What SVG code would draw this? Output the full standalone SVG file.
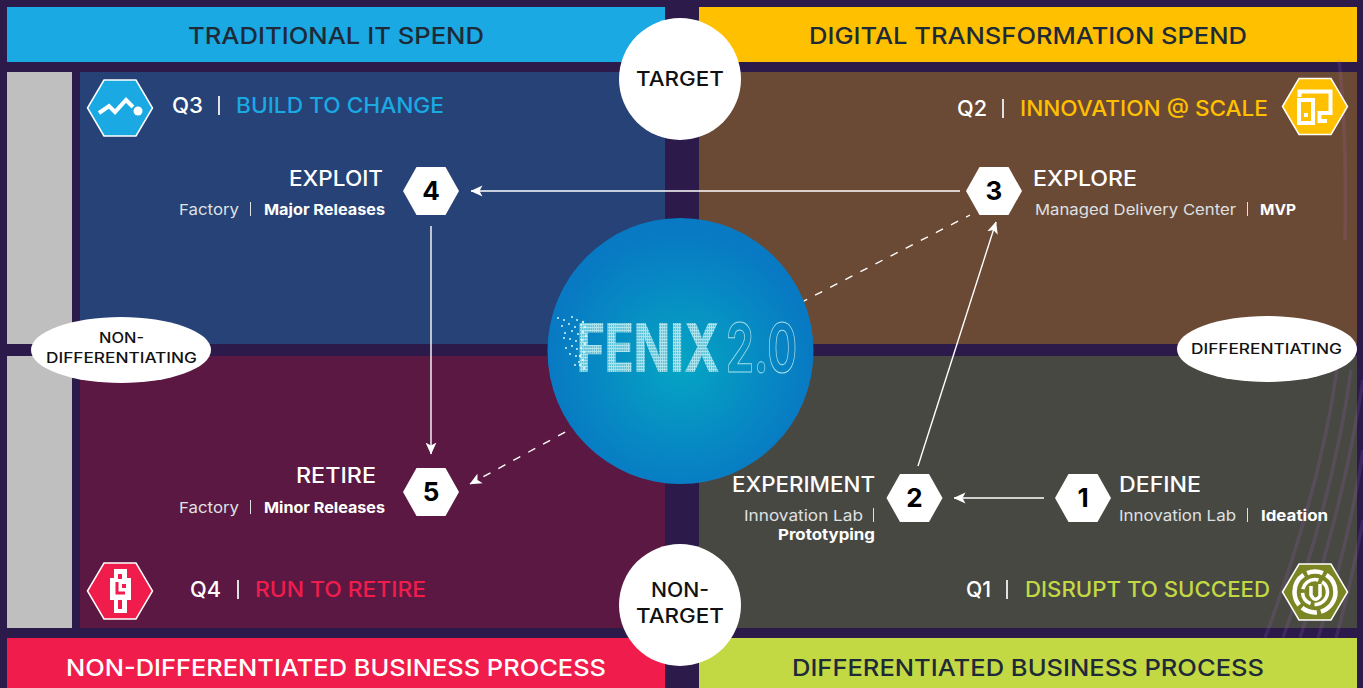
<svg xmlns="http://www.w3.org/2000/svg" width="1363" height="688" viewBox="0 0 1363 688">
<defs>
<style>
text{font-family:Inter,"Liberation Sans",sans-serif;}
.bar{font-size:23px;font-weight:500;fill:#1f2a38;}
.w{fill:#fff;}
.q{font-size:21px;font-weight:500;}
.h{font-size:21px;font-weight:500;fill:#fff;}
.s{font-size:15px;fill:#dfe0e2;}
.b{font-size:15px;font-weight:700;fill:#fff;}
.c{font-size:20px;font-weight:500;fill:#111;}
.e{font-size:14px;font-weight:500;fill:#111;}
.n{font-size:26px;font-weight:700;fill:#000;text-anchor:middle;}
.cn{stroke:#fff;stroke-width:1.400;fill:none;}
.d{stroke-dasharray:8 9;}
.icon{stroke:#fff;stroke-width:1.5;}
.ic{fill:none;stroke:#fff;stroke-width:4;}
</style>
<marker id="arr" viewBox="0 0 12 12" refX="11.500" refY="6" markerWidth="12" markerHeight="12" markerUnits="userSpaceOnUse" orient="auto">
<path d="M12 6L0 0.500L3 6L0 11.500Z" fill="#fff"/>
</marker>
<radialGradient id="globe" cx="50%" cy="55%" r="50%">
<stop offset="0" stop-color="#05a5c3"/>
<stop offset="1" stop-color="#0879c3"/>
</radialGradient>
<pattern id="grid" width="3" height="3" patternUnits="userSpaceOnUse">
<rect width="3" height="3" fill="#62c2d8"/>
<path d="M0 .5H3M.5 0V3" stroke="#aee4ee" stroke-width="1"/>
</pattern>
<polygon id="hex" points="-28,0 -14.500,-24 14.500,-24 28,0 14.500,24 -14.500,24"/>
<polygon id="bighex" points="-32.500,0 -16,-28 16,-28 32.500,0 16,28 -16,28"/>
</defs>

<rect width="1363" height="688" fill="#2b1a4a"/>

<g id="panels">
<rect x="7" y="7" width="658" height="55" fill="#1aa9e3"/>
<rect x="699" y="7" width="658" height="55" fill="#ffc000"/>
<rect x="7" y="72" width="65" height="272" fill="#bfbfbf"/>
<rect x="7" y="356" width="65" height="272" fill="#bfbfbf"/>
<rect x="80" y="72" width="585" height="272" fill="#264276"/>
<rect x="699" y="72" width="658" height="272" fill="#6b4a35"/>
<rect x="80" y="356" width="585" height="272" fill="#5b1842"/>
<rect x="699" y="356" width="658" height="272" fill="#484843"/>
<g fill="none" stroke="#a868c8" stroke-width="3.500" stroke-opacity=".17">
<path d="M1339 60Q1347 130 1345 240"/>
<path d="M1337 370Q1320 490 1265 638"/>
<path d="M1351 370Q1335 490 1283 638"/>
<path d="M1363 380Q1345 500 1300 638"/>
<path d="M1363 450Q1350 540 1318 638"/>
<path d="M1363 520Q1352 580 1336 638"/>
</g>
<rect x="7" y="638" width="658" height="50" fill="#ef1c4c"/>
<rect x="699" y="638" width="658" height="50" fill="#c3d943"/>
<text class="bar" x="188" y="44" textLength="296" lengthAdjust="spacingAndGlyphs">TRADITIONAL IT SPEND</text>
<text class="bar" x="809" y="44" textLength="438" lengthAdjust="spacingAndGlyphs">DIGITAL TRANSFORMATION SPEND</text>
<text class="bar" style="fill:#fff" x="66" y="676" textLength="540" lengthAdjust="spacingAndGlyphs">NON-DIFFERENTIATED BUSINESS PROCESS</text>
<text class="bar" x="792" y="676" textLength="472" lengthAdjust="spacingAndGlyphs">DIFFERENTIATED BUSINESS PROCESS</text>
</g>

<g id="connectors">
<line class="cn" x1="960" y1="191" x2="471" y2="191" marker-end="url(#arr)"/>
<line class="cn" x1="431" y1="226" x2="431" y2="454" marker-end="url(#arr)"/>
<line class="cn" x1="1044" y1="498" x2="954" y2="498" marker-end="url(#arr)"/>
<line class="cn" x1="918" y1="466" x2="996" y2="222" marker-end="url(#arr)"/>
<line class="cn d" x1="800" y1="303" x2="970" y2="215"/>
<line class="cn d" x1="580" y1="424" x2="470" y2="484" marker-end="url(#arr)"/>
</g>

<g id="q3-header">
<use href="#bighex" transform="translate(120 108)" fill="#1aa9e3" class="icon"/>
<path d="M99 113L109 106L115 112L126 100L133 107" fill="none" stroke="#fff" stroke-width="4"/>
<circle cx="138" cy="111" r="4.500" fill="#fff"/>
<text class="q w" x="172" y="113" textLength="31" lengthAdjust="spacingAndGlyphs">Q3</text>
<rect x="218" y="96" width="2" height="19" fill="#dfe0e2"/>
<text class="q" fill="#1aa9e3" x="236" y="113" textLength="208" lengthAdjust="spacingAndGlyphs">BUILD TO CHANGE</text>
</g>

<g id="q2-header">
<use href="#bighex" transform="translate(1315 106.500)" fill="#ffc000" class="icon"/>
<path d="M1299.500 97V91.500H1330.500V113H1319.500V121H1327" class="ic"/>
<rect x="1299" y="100" width="14" height="23" class="ic"/>
<rect x="1304" y="113" width="4" height="4" fill="#fff"/>
<text class="q w" x="957" y="116" textLength="30" lengthAdjust="spacingAndGlyphs">Q2</text>
<rect x="1002" y="99" width="2" height="19" fill="#dfe0e2"/>
<text class="q" fill="#ffc000" x="1020" y="116" textLength="248" lengthAdjust="spacingAndGlyphs">INNOVATION @ SCALE</text>
</g>

<g id="q4-header">
<use href="#bighex" transform="translate(120 591)" fill="#ef1c4c" class="icon"/>
<path d="M114 569H127V578H131V600H127V613H114V600H110V578H114Z" fill="#fff"/>
<rect x="118" y="574" width="4" height="5" fill="#ef1c4c"/>
<path d="M117 582V593H125" fill="none" stroke="#ef1c4c" stroke-width="3"/>
<rect x="122" y="584" width="4" height="4" fill="#ef1c4c"/>
<rect x="118" y="600" width="4" height="9" fill="#ef1c4c"/>
<text class="q w" x="190" y="597" textLength="31" lengthAdjust="spacingAndGlyphs">Q4</text>
<rect x="237" y="580" width="2" height="19" fill="#dfe0e2"/>
<text class="q" fill="#ef1c4c" x="255" y="597" textLength="171" lengthAdjust="spacingAndGlyphs">RUN TO RETIRE</text>
</g>

<g id="q1-header">
<use href="#bighex" transform="translate(1315 592)" fill="#7c8524" class="icon"/>
<g fill="none" stroke="#fff">
<circle cx="1315" cy="592" r="20.500" stroke-width="4.500" stroke-dasharray="26 4 16 4 34 4 16 4"/>
<circle cx="1315" cy="592" r="12.500" stroke-width="3.500" stroke-dasharray="20 4 14 4"/>
<path d="M1311 586V595Q1315 603 1320 596V584" stroke-width="3.500"/>
</g>
<text class="q w" x="966" y="597" textLength="25" lengthAdjust="spacingAndGlyphs">Q1</text>
<rect x="1006" y="580" width="2" height="19" fill="#dfe0e2"/>
<text class="q" fill="#c3d943" x="1025" y="597" textLength="245" lengthAdjust="spacingAndGlyphs">DISRUPT TO SUCCEED</text>
</g>

<g id="step-4">
<use href="#hex" transform="translate(431 191)" fill="#fff"/>
<text class="n" x="431" y="200">4</text>
<text class="h" x="289" y="186" textLength="94" lengthAdjust="spacingAndGlyphs">EXPLOIT</text>
<text class="s" x="179" y="215" textLength="60" lengthAdjust="spacingAndGlyphs">Factory</text>
<rect x="250" y="202" width="1" height="14" fill="#dfe0e2"/>
<text class="b" x="264" y="215" textLength="121" lengthAdjust="spacingAndGlyphs">Major Releases</text>
</g>

<g id="step-3">
<use href="#hex" transform="translate(994 191)" fill="#fff"/>
<text class="n" x="994" y="200">3</text>
<text class="h" x="1033" y="186" textLength="104" lengthAdjust="spacingAndGlyphs">EXPLORE</text>
<text class="s" x="1035" y="215" textLength="201" lengthAdjust="spacingAndGlyphs">Managed Delivery Center</text>
<rect x="1247" y="202" width="1" height="14" fill="#dfe0e2"/>
<text class="b" x="1260" y="215" textLength="36" lengthAdjust="spacingAndGlyphs">MVP</text>
</g>

<g id="step-5">
<use href="#hex" transform="translate(431 492)" fill="#fff"/>
<text class="n" x="431" y="501">5</text>
<text class="h" x="296" y="483" textLength="80" lengthAdjust="spacingAndGlyphs">RETIRE</text>
<text class="s" x="179" y="513" textLength="60" lengthAdjust="spacingAndGlyphs">Factory</text>
<rect x="250" y="500" width="1" height="14" fill="#dfe0e2"/>
<text class="b" x="264" y="513" textLength="121" lengthAdjust="spacingAndGlyphs">Minor Releases</text>
</g>

<g id="step-2">
<use href="#hex" transform="translate(914.500 498)" fill="#fff"/>
<text class="n" x="914.500" y="507">2</text>
<text class="h" x="732" y="492" textLength="143" lengthAdjust="spacingAndGlyphs">EXPERIMENT</text>
<text class="s" x="744" y="521" textLength="119" lengthAdjust="spacingAndGlyphs">Innovation Lab</text>
<rect x="873" y="508" width="1" height="14" fill="#dfe0e2"/>
<text class="b" x="778" y="540" textLength="97" lengthAdjust="spacingAndGlyphs">Prototyping</text>
</g>

<g id="step-1">
<use href="#hex" transform="translate(1083 498)" fill="#fff"/>
<text class="n" x="1083" y="507">1</text>
<text class="h" x="1119" y="492" textLength="82" lengthAdjust="spacingAndGlyphs">DEFINE</text>
<text class="s" x="1119" y="521" textLength="117" lengthAdjust="spacingAndGlyphs">Innovation Lab</text>
<rect x="1247" y="508" width="1" height="14" fill="#dfe0e2"/>
<text class="b" x="1261" y="521" textLength="67" lengthAdjust="spacingAndGlyphs">Ideation</text>
</g>

<g id="target">
<circle cx="680" cy="79" r="61" fill="#fff"/>
<text class="c" x="636" y="86" textLength="88" lengthAdjust="spacingAndGlyphs">TARGET</text>
</g>
<g id="non-target">
<circle cx="680" cy="605" r="61" fill="#fff"/>
<text class="c" x="651" y="597" textLength="58" lengthAdjust="spacingAndGlyphs">NON-</text>
<text class="c" x="636" y="623" textLength="88" lengthAdjust="spacingAndGlyphs">TARGET</text>
</g>
<g id="non-differentiating">
<ellipse cx="121" cy="350" rx="90" ry="33" fill="#fff"/>
<text class="e" x="99" y="343" textLength="45" lengthAdjust="spacingAndGlyphs">NON-</text>
<text class="e" x="46" y="363" textLength="151" lengthAdjust="spacingAndGlyphs">DIFFERENTIATING</text>
</g>
<g id="differentiating">
<ellipse cx="1267" cy="349" rx="90" ry="33" fill="#fff"/>
<text class="e" x="1191" y="354" textLength="151" lengthAdjust="spacingAndGlyphs">DIFFERENTIATING</text>
</g>

<g id="fenix">
<circle cx="680.500" cy="351" r="133" fill="url(#globe)"/>
<text transform="translate(577 372) scale(.71 1)" font-size="67" font-weight="800" fill="url(#grid)">FENIX</text>
<text transform="translate(726 372) scale(.66 1)" font-size="67" font-weight="700" fill="none" stroke="#a5dfea" stroke-width="1">2.0</text>
<g fill="#d8f3f7">
<circle cx="558" cy="318" r="1"/><circle cx="564" cy="320" r="1"/><circle cx="572" cy="317" r="1"/><circle cx="577" cy="320" r="1"/>
<circle cx="562" cy="326" r="1"/><circle cx="569" cy="324" r="1"/><circle cx="575" cy="327" r="1"/><circle cx="581" cy="325" r="1"/>
<circle cx="565" cy="333" r="1"/><circle cx="572" cy="331" r="1"/><circle cx="578" cy="334" r="1"/>
<circle cx="564" cy="338" r="1"/><circle cx="570" cy="339" r="1"/><circle cx="576" cy="341" r="1"/>
<circle cx="572" cy="346" r="1"/><circle cx="577" cy="349" r="1"/><circle cx="566" cy="348" r="1"/>
<circle cx="570" cy="354" r="1"/><circle cx="576" cy="356" r="1"/><circle cx="579" cy="362" r="1"/><circle cx="575" cy="365" r="1"/>
<circle cx="583" cy="322" r="1.200"/><circle cx="585" cy="327" r="1.200"/><circle cx="583" cy="332" r="1.200"/><circle cx="586" cy="336" r="1.200"/>
<circle cx="582" cy="340" r="1.200"/><circle cx="585" cy="344" r="1.200"/><circle cx="581" cy="348" r="1.200"/><circle cx="584" cy="352" r="1.200"/>
<circle cx="580" cy="356" r="1.200"/><circle cx="583" cy="360" r="1.200"/><circle cx="580" cy="365" r="1.200"/><circle cx="584" cy="368" r="1.200"/>
</g>
</g>
</svg>
